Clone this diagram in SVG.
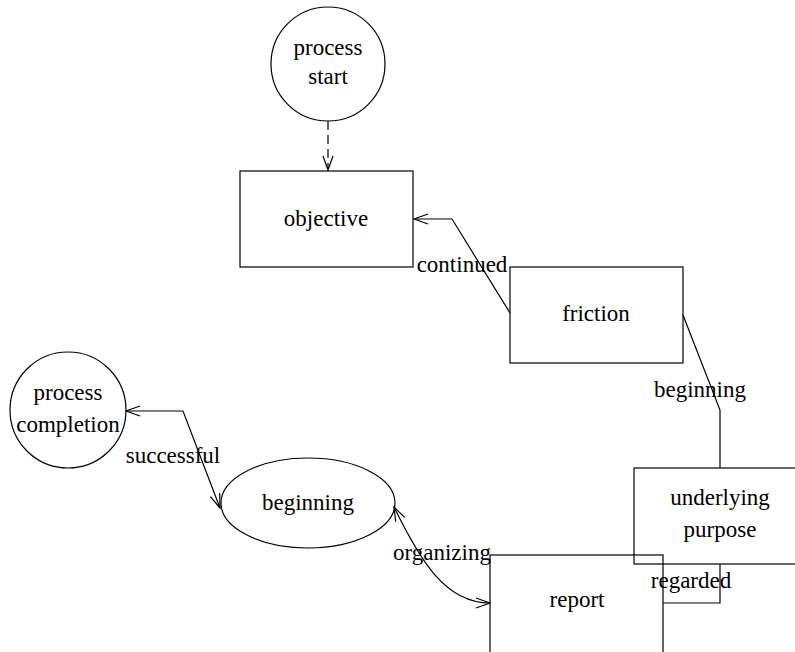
<svg xmlns="http://www.w3.org/2000/svg" width="795" height="652" viewBox="0 0 795 652">
<style>
.n{fill:none;stroke:#000;stroke-width:1.2}
.e{fill:none;stroke:#000;stroke-width:1.2}
</style>
<defs>
<marker id="arr" viewBox="0 0 16 12" refX="15" refY="6" markerWidth="16" markerHeight="12" markerUnits="userSpaceOnUse" orient="auto-start-reverse">
<path d="M1,1 L15,6 L1,11" fill="none" stroke="#000" stroke-width="1.2"/>
</marker>
</defs>
<rect width="795" height="652" fill="#fff"/>
<g font-family="'Liberation Serif', 'Noto Serif', 'DejaVu Serif', serif" font-size="23" text-anchor="middle" fill="#000">
<g id="connectors">
<path class="e" d="M328,121 L328,170" stroke-dasharray="9,5" marker-end="url(#arr)"/>
<path class="e" d="M510,313 L452,219 L414,219" marker-end="url(#arr)"/>
<path class="e" d="M683,315 L720,410 L720,468"/>
<path class="e" d="M720,564 L720,603 L663,603"/>
<path class="e" d="M126,411 L183,411 L220,508" marker-start="url(#arr)" marker-end="url(#arr)"/>
<path class="e" d="M394,507 C420,560 445,603 490,603" marker-start="url(#arr)" marker-end="url(#arr)"/>
<text x="462" y="272">continued</text>
<text x="700" y="397">beginning</text>
<text x="691" y="588">regarded</text>
<text x="173" y="463">successful</text>
<text x="442" y="560">organizing</text>
</g>
<g id="process-start">
<circle class="n" cx="328" cy="64" r="57"/>
<text x="328" y="55">process</text>
<text x="328" y="84">start</text>
</g>
<g id="objective">
<rect class="n" x="240" y="171" width="173" height="96"/>
<text x="326" y="226">objective</text>
</g>
<g id="friction">
<rect class="n" x="510" y="267" width="173" height="96"/>
<text x="596" y="321">friction</text>
</g>
<g id="underlying-purpose">
<rect class="n" x="634" y="468" width="173" height="96"/>
<text x="720" y="505">underlying</text>
<text x="720" y="537">purpose</text>
</g>
<g id="report">
<rect class="n" x="490" y="555" width="173" height="110"/>
<text x="577" y="607">report</text>
</g>
<g id="beginning">
<ellipse class="n" cx="308" cy="503" rx="87" ry="45"/>
<text x="308" y="510">beginning</text>
</g>
<g id="process-completion">
<circle class="n" cx="68" cy="410" r="58"/>
<text x="68" y="400">process</text>
<text x="68" y="432">completion</text>
</g>
</g>
</svg>
